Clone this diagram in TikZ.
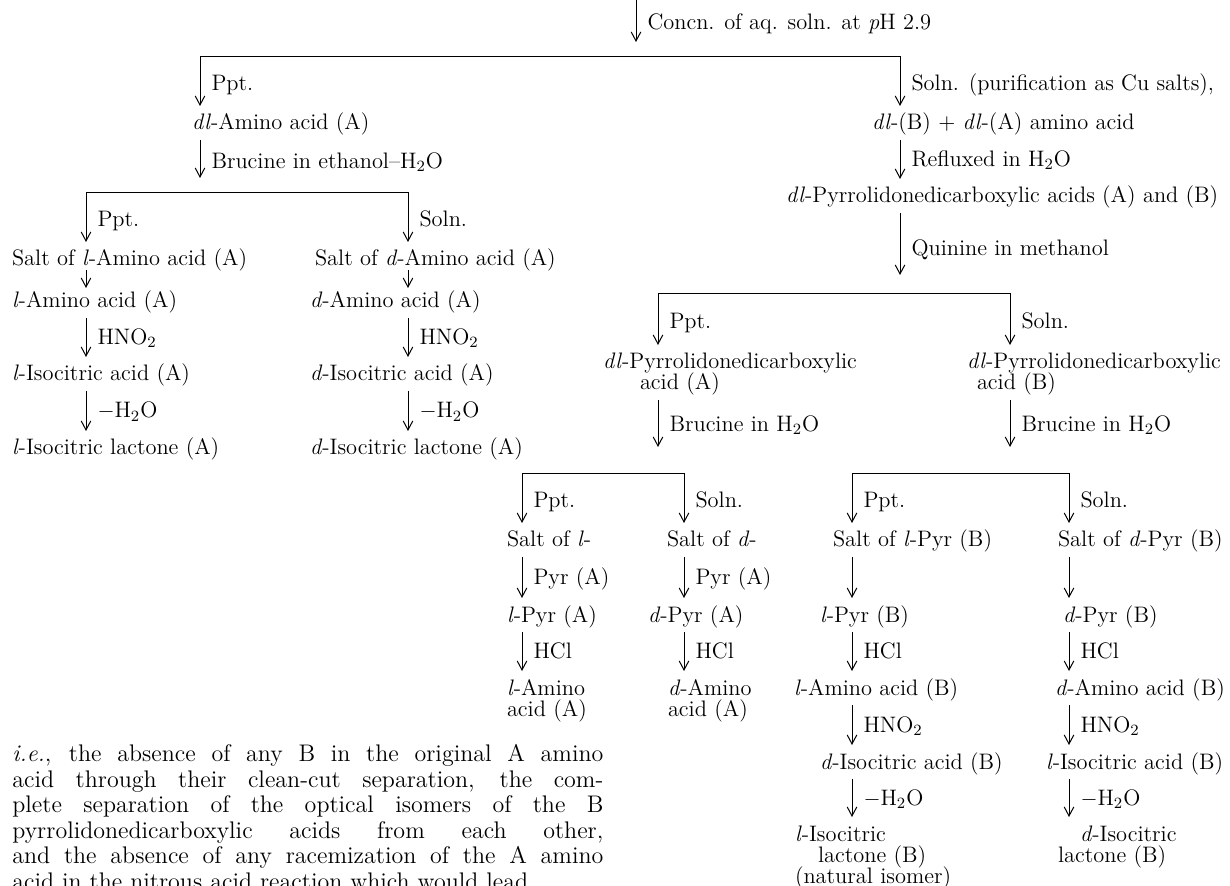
\documentclass[tikz,border=0pt]{standalone}
\usepackage{fontspec}
\usetikzlibrary{arrows.meta,positioning}

\tikzset{
  cmpd/.style={anchor=base west, inner sep=0pt, outer sep=0pt, text height=7.5pt, text depth=2.5pt},
  lbl/.style={anchor=west, inner sep=0pt, xshift=5.5pt, text height=7.5pt, text depth=2.5pt},
  arr/.style={-{Straight Barb[length=4.5pt,width=4.8pt]}, line width=0.5pt, shorten <=2.5pt, shorten >=4.5pt},
  frombar/.style={arr, shorten <=0pt},
  split/.style={line width=0.45pt},
  para/.style={anchor=north west, inner sep=0pt, text width=295.5pt, align=justify,
    font=\fontsize{12}{12.8}\selectfont}
}

\begin{document}
\begin{tikzpicture}[x=0.5pt, y=-0.5pt, font=\fontsize{11.2}{13}\selectfont]
    \useasboundingbox (0,0) rectangle (1230,886);
    \clip (0,0) rectangle (1230,886);

    % split points
    \coordinate (src) at (636,-6);
    \coordinate (b1l) at (200,56);
    \coordinate (b1m) at (636,56);
    \coordinate (b1r) at (900,56);
    \coordinate (b2l) at (86,192);
    \coordinate (b2m) at (200,192);
    \coordinate (b2r) at (408,192);
    \coordinate (b3l) at (658,293);
    \coordinate (b3m) at (900,293);
    \coordinate (b3r) at (1010,293);
    \coordinate (b4l) at (522,473);
    \coordinate (b4m) at (658,473);
    \coordinate (b4r) at (684,473);
    \coordinate (b5l) at (852,473);
    \coordinate (b5m) at (1010,473);
    \coordinate (b5r) at (1069,473);

    \foreach \l/\r in {b1l/b1r, b2l/b2r, b3l/b3r, b4l/b4r, b5l/b5r} {
        \draw[split] (\l) -- (\r);
    }

    % Amino acid (A): left branch
    \node[cmpd] (dlAmA) at (192,130) {\textit{dl}-Amino acid (A)};
    \node[cmpd] (saltlA) at (12,266) {Salt of \textit{l}-Amino acid (A)};
    \node[cmpd] (lAmA) at (12,308) {\textit{l}-Amino acid (A)};
    \node[cmpd] (lIsoA) at (12,381) {\textit{l}-Isocitric acid (A)};
    \node[cmpd] (lLacA) at (12,455) {\textit{l}-Isocitric lactone (A)};
    \node[cmpd] (saltdA) at (315,266) {Salt of \textit{d}-Amino acid (A)};
    \node[cmpd] (dAmA) at (310,308) {\textit{d}-Amino acid (A)};
    \node[cmpd] (dIsoA) at (310,381) {\textit{d}-Isocitric acid (A)};
    \node[cmpd] (dLacA) at (310,455) {\textit{d}-Isocitric lactone (A)};

    % Solution: right branch
    \node[cmpd] (mixBA) at (872,130) {\textit{dl}-(B) $+$ \textit{dl}-(A) amino acid};
    \node[cmpd] (dlPyr) at (786,203) {\textit{dl}-Pyrrolidonedicarboxylic acids (A) and (B)};
    \node[cmpd] (pyrA1) at (603,369) {\textit{dl}-Pyrrolidonedicarboxylic};
    \node[cmpd] (pyrA2) at (640,390) {acid (A)};
    \node[cmpd] (pyrB1) at (967,369) {\textit{dl}-Pyrrolidonedicarboxylic};
    \node[cmpd] (pyrB2) at (977,390) {acid (B)};

    % Pyr (A)
    \node[cmpd] (saltlPA) at (507,547) {Salt of \textit{l}-};
    \node[cmpd] (lPyrA) at (507,622) {\textit{l}-Pyr (A)};
    \node[cmpd] (lAmA1) at (507,695) {\textit{l}-Amino};
    \node[cmpd] (lAmA2) at (507,716) {acid (A)};
    \node[cmpd] (saltdPA) at (667,547) {Salt of \textit{d}-};
    \node[cmpd] (dPyrA) at (648,622) {\textit{d}-Pyr (A)};
    \node[cmpd] (dAmA1) at (668,695) {\textit{d}-Amino};
    \node[cmpd] (dAmA2) at (668,716) {acid (A)};

    % Pyr (B)
    \node[cmpd] (saltlPB) at (833,547) {Salt of \textit{l}-Pyr (B)};
    \node[cmpd] (lPyrB) at (820,622) {\textit{l}-Pyr (B)};
    \node[cmpd] (lAmB) at (794,695) {\textit{l}-Amino acid (B)};
    \node[cmpd] (dIsoB) at (820,769) {\textit{d}-Isocitric acid (B)};
    \node[cmpd] (lLacB1) at (795,841) {\textit{l}-Isocitric};
    \node[cmpd] (lLacB2) at (818,862) {lactone (B)};
    \node[cmpd] (lLacB3) at (795,883) {(natural isomer)};
    \node[cmpd] (saltdPB) at (1058,547) {Salt of \textit{d}-Pyr (B)};
    \node[cmpd] (dPyrB) at (1063,622) {\textit{d}-Pyr (B)};
    \node[cmpd] (dAmB) at (1055,695) {\textit{d}-Amino acid (B)};
    \node[cmpd] (lIsoB) at (1046,769) {\textit{l}-Isocitric acid (B)};
    \node[cmpd] (dLacB1) at (1080,841) {\textit{d}-Isocitric};
    \node[cmpd] (dLacB2) at (1058,862) {lactone (B)};

    % first split
    \draw[arr, shorten <=0pt, shorten >=7pt] (src) -- node[lbl] {Concn. of aq. soln. at \textit{p}H 2.9} (b1m);
    \draw[frombar] (b1l) -- node[lbl] {Ppt.} (dlAmA.north -| b1l);
    \draw[frombar] (b1r) -- node[lbl] {Soln. (purification as Cu salts),} (mixBA.north -| b1r);

    % amino acid (A)
    \draw[arr, shorten >=7pt] (dlAmA.south -| b2m) -- node[lbl] {Brucine in ethanol--H\textsubscript{2}O} (b2m);
    \draw[frombar] (b2l) -- node[lbl] {Ppt.} (saltlA.north -| b2l);
    \draw[frombar] (b2r) -- node[lbl] {Soln.} (saltdA.north -| b2r);
    \draw[arr, shorten <=-0.5pt, shorten >=2.5pt] (saltlA.south -| b2l) -- (lAmA.north -| b2l);
    \draw[arr, shorten <=-0.5pt, shorten >=2.5pt] (saltdA.south -| b2r) -- (dAmA.north -| b2r);
    \foreach \a/\b/\txt in {lAmA/lIsoA/HNO\textsubscript{2}, lIsoA/lLacA/$-$H\textsubscript{2}O} {
        \draw[arr] (\a.south -| b2l) -- node[lbl] {\txt} (\b.north -| b2l);
    }
    \foreach \a/\b/\txt in {dAmA/dIsoA/HNO\textsubscript{2}, dIsoA/dLacA/$-$H\textsubscript{2}O} {
        \draw[arr] (\a.south -| b2r) -- node[lbl] {\txt} (\b.north -| b2r);
    }

    % pyrrolidonedicarboxylic acids
    \draw[arr] (mixBA.south -| b1r) -- node[lbl] {Refluxed in H\textsubscript{2}O} (dlPyr.north -| b1r);
    \draw[arr, shorten >=9pt] (dlPyr.south -| b3m) -- node[lbl] {Quinine in methanol} (b3m);
    \draw[frombar] (b3l) -- node[lbl] {Ppt.} (pyrA1.north -| b3l);
    \draw[frombar] (b3r) -- node[lbl] {Soln.} (pyrB1.north -| b3r);
    \draw[arr, shorten >=13pt] (pyrA2.south -| b4m) -- node[lbl, pos=0.4] {Brucine in H\textsubscript{2}O} (b4m);
    \draw[arr, shorten >=13pt] (pyrB2.south -| b5m) -- node[lbl, pos=0.4] {Brucine in H\textsubscript{2}O} (b5m);

    % Pyr (A) salts
    \draw[frombar] (b4l) -- node[lbl] {Ppt.} (saltlPA.north -| b4l);
    \draw[frombar] (b4r) -- node[lbl] {Soln.} (saltdPA.north -| b4r);
    \draw[arr] (saltlPA.south -| b4l) -- node[lbl] {Pyr (A)} (lPyrA.north -| b4l);
    \draw[arr] (lPyrA.south -| b4l) -- node[lbl] {HCl} (lAmA1.north -| b4l);
    \draw[arr] (saltdPA.south -| b4r) -- node[lbl] {Pyr (A)} (dPyrA.north -| b4r);
    \draw[arr] (dPyrA.south -| b4r) -- node[lbl] {HCl} (dAmA1.north -| b4r);

    % Pyr (B) salts
    \draw[frombar] (b5l) -- node[lbl] {Ppt.} (saltlPB.north -| b5l);
    \draw[frombar] (b5r) -- node[lbl] {Soln.} (saltdPB.north -| b5r);
    \draw[arr] (saltlPB.south -| b5l) -- (lPyrB.north -| b5l);
    \draw[arr] (saltdPB.south -| b5r) -- (dPyrB.north -| b5r);
    \foreach \a/\b/\txt in {lPyrB/lAmB/HCl, lAmB/dIsoB/HNO\textsubscript{2}, dIsoB/lLacB1/$-$H\textsubscript{2}O} {
        \draw[arr] (\a.south -| b5l) -- node[lbl] {\txt} (\b.north -| b5l);
    }
    \foreach \a/\b/\txt in {dPyrB/dAmB/HCl, dAmB/lIsoB/HNO\textsubscript{2}, lIsoB/dLacB1/$-$H\textsubscript{2}O} {
        \draw[arr] (\a.south -| b5r) -- node[lbl] {\txt} (\b.north -| b5r);
    }

    % running text below
    \node[para] (note) at (12,744) {\parfillskip=0pt \spaceskip=0.333em plus 3em minus 0.1em
        \textit{i.e.}, the absence of any B in the original A amino\linebreak
        acid through their clean-cut separation, the com-\linebreak
        plete separation of the optical isomers of the B\linebreak
        pyrrolidonedicarboxylic acids from each other,\linebreak
        and the absence of any racemization of the A amino\linebreak
        acid in the nitrous acid reaction which would lead};
\end{tikzpicture}
\end{document}
